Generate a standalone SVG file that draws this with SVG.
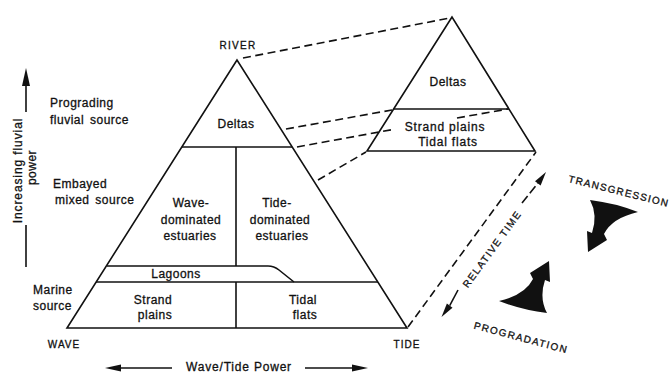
<svg xmlns="http://www.w3.org/2000/svg" width="671" height="373" viewBox="0 0 671 373">
<style>
.ln{fill:none;stroke:#111;stroke-width:1.6;stroke-linejoin:miter}
.ds{fill:none;stroke:#111;stroke-width:1.6;stroke-dasharray:8 4.5}
.t{font-family:"Liberation Sans",Arial,sans-serif;font-size:12px;letter-spacing:0.5px;fill:#111;stroke:#111;stroke-width:0.3}
.c{text-anchor:middle}
.cap{font-size:10px;letter-spacing:1.3px}
.hd{fill:#111;stroke:none}
</style>
<rect width="671" height="373" fill="#fff"/>

<g id="connectors">
  <line class="ds" x1="243" y1="58" x2="450" y2="18"/>
  <line class="ds" x1="286" y1="129" x2="392" y2="110"/>
  <line class="ds" x1="297" y1="147" x2="393" y2="129.5"/>
  <line class="ds" x1="457" y1="118" x2="508" y2="109"/>
  <line class="ds" x1="318" y1="180" x2="366" y2="152"/>
  <line class="ds" x1="408" y1="327" x2="536" y2="152"/>
</g>

<g id="main-triangle">
  <polygon class="ln" points="237,60 67,328 407,328"/>
  <line class="ln" x1="182" y1="147" x2="292" y2="147"/>
  <line class="ln" x1="236" y1="147" x2="236" y2="266"/>
  <line class="ln" x1="236" y1="282" x2="236" y2="328"/>
  <path class="ln" d="M107,266 L268,266 Q274,266 279,270 L294,282"/>
  <line class="ln" x1="96" y1="282" x2="378" y2="282"/>
</g>

<g id="main-labels">
  <text class="t c cap" x="238" y="49">RIVER</text>
  <text class="t c" x="236" y="128">Deltas</text>
  <text class="t c" x="191" y="207">Wave-</text>
  <text class="t c" x="191" y="223.5">dominated</text>
  <text class="t c" x="190" y="240">estuaries</text>
  <text class="t c" x="277" y="207">Tide-</text>
  <text class="t c" x="280" y="223.5">dominated</text>
  <text class="t c" x="282" y="240">estuaries</text>
  <text class="t c" x="176" y="278">Lagoons</text>
  <text class="t c" x="153" y="303.5">Strand</text>
  <text class="t c" x="155" y="318.5">plains</text>
  <text class="t c" x="303" y="303.5">Tidal</text>
  <text class="t c" x="305" y="318.5">flats</text>
  <text class="t c cap" x="64" y="348" style="letter-spacing:1px">WAVE</text>
  <text class="t c cap" x="407" y="348" style="letter-spacing:1px">TIDE</text>
</g>

<g id="left-axis">
  <line class="ln" x1="26" y1="84" x2="26" y2="112"/>
  <polygon class="hd" points="26,68 30,86 22,86"/>
  <line class="ln" x1="26" y1="225" x2="26" y2="267"/>
  <text class="t c" transform="translate(22,170.5) rotate(-90)" style="letter-spacing:0.9px">Increasing fluvial</text>
  <text class="t c" transform="translate(36,167.5) rotate(-90)">power</text>
  <text class="t" x="50" y="107">Prograding</text>
  <text class="t" x="50" y="124" style="word-spacing:2px">fluvial source</text>
  <text class="t" x="53" y="188">Embayed</text>
  <text class="t" x="55" y="204" style="word-spacing:2px">mixed source</text>
  <text class="t" x="33" y="294">Marine</text>
  <text class="t" x="33" y="309.5">source</text>
</g>

<g id="bottom-axis">
  <line class="ln" x1="118" y1="368" x2="172" y2="368"/>
  <polygon class="hd" points="105,368 121,364.5 121,371.5"/>
  <line class="ln" x1="305" y1="368" x2="354" y2="368"/>
  <polygon class="hd" points="368,368 352,364.5 352,371.5"/>
  <text class="t c" x="239" y="370.5" style="letter-spacing:0.8px">Wave/Tide Power</text>
</g>

<g id="right-triangle">
  <polygon class="ln" points="452,17 367,151 535,151"/>
  <line class="ln" x1="393.5" y1="109" x2="509" y2="109"/>
  <text class="t c" x="448" y="86">Deltas</text>
  <text class="t c" x="445" y="131" style="letter-spacing:0.8px">Strand plains</text>
  <text class="t c" x="448" y="145.5" style="letter-spacing:0.8px">Tidal flats</text>
</g>

<g id="relative-time">
  <line class="ds" x1="522" y1="203" x2="538" y2="183" style="stroke-dasharray:9 3.5"/>
  <polygon class="hd" points="546,172 540.6,185.4 535,181.2"/>
  <line class="ln" x1="458" y1="290" x2="449.7" y2="305.7"/>
  <polygon class="hd" points="441.5,317 452.5,307.8 446.9,303.6"/>
  <text class="t c cap" transform="translate(492,249) rotate(-54)" y="3.6" style="letter-spacing:1.4px">RELATIVE TIME</text>
</g>

<g id="transgression">
  <path class="hd" d="M590,200 Q615,203 638,212 Q612,218 604,234 L607,240 L588,252 L587,231 L592,233 Q598,215 590,200 Z"/>
  <text class="t c cap" transform="translate(619,191) rotate(14)" y="3.6">TRANSGRESSION</text>
</g>

<g id="progradation">
  <path class="hd" transform="matrix(-1 0 0 -1 1137 513)" d="M590,200 Q615,203 638,212 Q612,218 604,234 L607,240 L588,252 L587,231 L592,233 Q598,215 590,200 Z"/>
  <text class="t c cap" transform="translate(521,337.5) rotate(15)" y="3.6" style="letter-spacing:1.4px">PROGRADATION</text>
</g>
</svg>
